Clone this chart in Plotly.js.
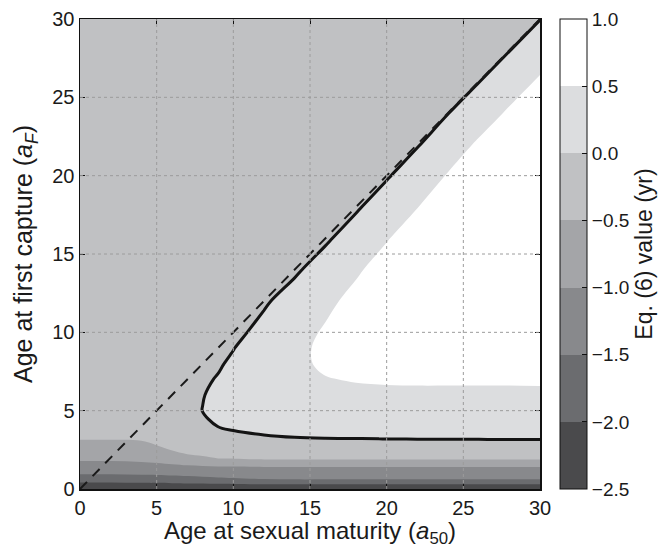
<!DOCTYPE html>
<html>
<head>
<meta charset="utf-8">
<script src="https://cdn.plot.ly/plotly-3.0.1.min.js"></script>
<style>html,body{margin:0;padding:0;background:#fff;}#chart{width:660px;height:548px;}</style>
</head>
<body>
<div id="chart"></div>
<script>
// Age at sexual maturity (a50) grid
const xVals = [0, 2, 4, 6, 7, 8, 9, 10, 12, 14, 16, 18, 20, 22, 24, 26, 28, 30];
// Age at first capture (aF) grid
const yVals = [0, 0.3, 0.6, 1, 1.4, 1.9, 2.5, 3.2, 4, 5, 6, 7, 8, 9, 10, 12, 14, 16, 18, 20, 22, 24, 26, 28, 30];
// Eq. (6) value (yr), one row per yVals entry, one column per xVals entry
const zVals = [
  [-2.4,-2.4,-2.4,-2.4,-2.4,-2.4,-2.4,-2.4,-2.4,-2.4,-2.4,-2.4,-2.4,-2.4,-2.4,-2.4,-2.4,-2.4],
  [-2.11,-2.11,-2.10,-2.08,-2.07,-2.06,-2.04,-2.03,-2.01,-2.01,-2.01,-2.01,-2.01,-2.01,-2.01,-2.01,-2.01,-2.01],
  [-1.82,-1.82,-1.78,-1.73,-1.70,-1.66,-1.61,-1.58,-1.52,-1.51,-1.51,-1.51,-1.51,-1.51,-1.51,-1.51,-1.51,-1.51],
  [-1.45,-1.45,-1.41,-1.37,-1.34,-1.32,-1.30,-1.28,-1.26,-1.25,-1.25,-1.25,-1.25,-1.25,-1.25,-1.25,-1.25,-1.25],
  [-1.22,-1.22,-1.18,-1.11,-1.08,-1.06,-1.04,-1.03,-1.01,-1.01,-1.01,-1.01,-1.01,-1.01,-1.01,-1.01,-1.01,-1.01],
  [-0.93,-0.93,-0.90,-0.81,-0.72,-0.65,-0.53,-0.52,-0.49,-0.49,-0.49,-0.49,-0.49,-0.49,-0.49,-0.49,-0.49,-0.49],
  [-0.72,-0.72,-0.68,-0.48,-0.30,-0.20,-0.20,-0.20,-0.31,-0.28,-0.27,-0.27,-0.27,-0.27,-0.27,-0.27,-0.27,-0.27],
  [-0.48,-0.48,-0.46,-0.30,-0.25,-0.30,-0.19,-0.08,-0.037,-0.014,-0.005,-0.003,0.001,0.008,0.008,0.012,0.016,0.016],
  [-0.32,-0.32,-0.30,-0.30,-0.10,-0.16,0.007,0.04,0.081,0.10,0.10,0.11,0.12,0.12,0.12,0.12,0.12,0.124],
  [-0.3,-0.3,-0.3,-0.3,-0.10,0.006,0.088,0.17,0.228,0.25,0.22,0.25,0.26,0.27,0.27,0.27,0.27,0.27],
  [-0.3,-0.3,-0.3,-0.3,-0.10,-0.0125,0.071,0.154,0.32,0.40,0.35,0.39,0.41,0.41,0.41,0.41,0.41,0.42],
  [-0.3,-0.3,-0.3,-0.3,-0.11,-0.044,0.019,0.082,0.21,0.335,0.48,0.53,0.55,0.56,0.56,0.56,0.56,0.56],
  [-0.3,-0.3,-0.3,-0.3,-0.21,-0.12,-0.034,0.052,0.22,0.40,0.57,0.67,0.70,0.70,0.71,0.71,0.71,0.71],
  [-0.3,-0.3,-0.3,-0.3,-0.3,-0.21,-0.11,-0.01,0.19,0.39,0.59,0.79,0.8,0.8,0.8,0.8,0.8,0.8],
  [-0.3,-0.3,-0.3,-0.3,-0.3,-0.3,-0.20,-0.097,0.118,0.333,0.548,0.76,0.8,0.8,0.8,0.8,0.8,0.8],
  [-0.3,-0.3,-0.3,-0.3,-0.3,-0.3,-0.3,-0.26,-0.05,0.17,0.40,0.625,0.8,0.8,0.8,0.8,0.8,0.8],
  [-0.3,-0.3,-0.3,-0.3,-0.3,-0.3,-0.3,-0.3,-0.28,-0.06,0.19,0.44,0.69,0.8,0.8,0.8,0.8,0.8],
  [-0.3,-0.3,-0.3,-0.3,-0.3,-0.3,-0.3,-0.3,-0.3,-0.28,-0.06,0.20,0.47,0.74,0.8,0.8,0.8,0.8],
  [-0.3,-0.3,-0.3,-0.3,-0.3,-0.3,-0.3,-0.3,-0.3,-0.3,-0.28,-0.05,0.22,0.49,0.78,0.8,0.8,0.8],
  [-0.3,-0.3,-0.3,-0.3,-0.3,-0.3,-0.3,-0.3,-0.3,-0.3,-0.3,-0.29,-0.04,0.24,0.53,0.8,0.8,0.8],
  [-0.3,-0.3,-0.3,-0.3,-0.3,-0.3,-0.3,-0.3,-0.3,-0.3,-0.3,-0.3,-0.29,-0.03,0.26,0.56,0.8,0.8],
  [-0.3,-0.3,-0.3,-0.3,-0.3,-0.3,-0.3,-0.3,-0.3,-0.3,-0.3,-0.3,-0.3,-0.29,-0.01,0.27,0.56,0.8],
  [-0.3,-0.3,-0.3,-0.3,-0.3,-0.3,-0.3,-0.3,-0.3,-0.3,-0.3,-0.3,-0.3,-0.3,-0.28,-0.01,0.28,0.56],
  [-0.3,-0.3,-0.3,-0.3,-0.3,-0.3,-0.3,-0.3,-0.3,-0.3,-0.3,-0.3,-0.3,-0.3,-0.3,-0.28,-0.01,0.28],
  [-0.3,-0.3,-0.3,-0.3,-0.3,-0.3,-0.3,-0.3,-0.3,-0.3,-0.3,-0.3,-0.3,-0.3,-0.3,-0.3,-0.28,-0.01]
];
// 1:1 reference line (a_F = a50)
const diagX = [0, 30];
const diagY = [0, 30];
// contour levels, colorbar range and ticks
const levelStart = -2.5, levelEnd = 1.0, levelStep = 0.5;
const cbTicks = [-2.5, -2.0, -1.5, -1.0, -0.5, 0.0, 0.5, 1.0];
const axisTicks = [0, 5, 10, 15, 20, 25, 30];
const gridVals = [5, 10, 15, 20, 25];
// one colour per band, from (-2.5,-2.0) up to (0.5,1.0)
const bandColors = ['#4a4a4c','#6b6c6f','#88898c','#a4a5a8','#c0c1c3','#dcdddf','#ffffff'];

const n = bandColors.length;
// fill colorscale: band midpoints sit at (k+1)/(n+1) in Plotly's fill mapping
const fillScale = [[0, bandColors[0]]];
bandColors.forEach((c, k) => fillScale.push([(k + 1) / (n + 1), c]));
fillScale.push([1, bandColors[n - 1]]);
// stepped colorscale for the colorbar (zmin..zmax)
const stepScale = [];
bandColors.forEach((c, k) => { stepScale.push([k / n, c]); stepScale.push([(k + 1) / n, c]); });

const FONT = 'Liberation Sans, Arial, Helvetica, sans-serif';
const TXT = '#1a1a1a';

const fillTrace = {
  type: 'contour', x: xVals, y: yVals, z: zVals,
  autocontour: false, showscale: false,
  contours: {start: levelStart, end: levelEnd, size: levelStep, coloring: 'fill', showlines: false},
  line: {width: 0, smoothing: 1},
  colorscale: fillScale,
  hoverinfo: 'skip'
};

// same field, only used to carry the colour bar (drawn transparent)
const scaleTrace = {
  type: 'contour', x: xVals, y: yVals, z: zVals,
  autocontour: false, opacity: 0,
  zmin: levelStart, zmax: levelEnd,
  contours: {start: levelStart, end: levelEnd, size: levelStep, coloring: 'heatmap', showlines: false},
  line: {width: 0},
  colorscale: stepScale,
  hoverinfo: 'skip',
  colorbar: {
    x: 1.0435, xanchor: 'left', y: 0.5, yanchor: 'middle', len: 1, lenmode: 'fraction',
    thickness: 27, thicknessmode: 'pixels', xpad: 0, ypad: 0,
    outlinewidth: 1, outlinecolor: '#111',
    ticks: 'inside', ticklen: 5, tickcolor: '#111',
    tickvals: cbTicks, tickformat: '.1f',
    tickfont: {family: FONT, size: 19, color: TXT},
    title: {text: 'Eq. (6) value (yr)', side: 'right', font: {family: FONT, size: 23, color: TXT}}
  }
};

const zeroTrace = {
  type: 'contour', x: xVals, y: yVals, z: zVals,
  autocontour: false, showscale: false,
  contours: {start: 0, end: 0, size: 1, coloring: 'none', showlines: true},
  line: {color: '#141414', width: 3, smoothing: 1},
  hoverinfo: 'skip'
};

const diagTrace = {
  type: 'scatter', mode: 'lines', x: diagX, y: diagY,
  line: {color: '#1a1a1a', width: 2, dash: '10px,8px'},
  hoverinfo: 'skip', showlegend: false
};

const shapes = [];
gridVals.forEach(v => {
  shapes.push({type: 'line', xref: 'x', yref: 'paper', x0: v, x1: v, y0: 0, y1: 1, layer: 'above',
    line: {color: '#9c9c9c', width: 1, dash: 'dot'}});
  shapes.push({type: 'line', xref: 'paper', yref: 'y', x0: 0, x1: 1, y0: v, y1: v, layer: 'above',
    line: {color: '#9c9c9c', width: 1, dash: 'dot'}});
});

const axisCommon = {
  range: [0, 30], tickvals: axisTicks, ticks: 'inside', ticklen: 5, tickwidth: 1, tickcolor: '#111',
  showline: true, linecolor: '#111', linewidth: 1.5, mirror: 'ticks', showgrid: false, zeroline: false,
  tickfont: {family: FONT, size: 20, color: TXT}
};

const layout = {
  width: 660, height: 548,
  margin: {l: 80, r: 120, t: 19, b: 58.5, autoexpand: false},
  paper_bgcolor: '#fff', plot_bgcolor: '#fff',
  font: {family: FONT, size: 20, color: TXT},
  showlegend: false,
  xaxis: Object.assign({}, axisCommon, {
    title: {text: 'Age at sexual maturity (<i>a</i><sub>50</sub>)', font: {family: FONT, size: 24, color: TXT}, standoff: 0}
  }),
  yaxis: Object.assign({}, axisCommon, {
    title: {text: 'Age at first capture (<i>a</i><sub><i>F</i></sub>)', font: {family: FONT, size: 25, color: TXT}, standoff: 12}
  }),
  shapes: shapes
};

Plotly.newPlot('chart', [fillTrace, scaleTrace, zeroTrace, diagTrace], layout, {displayModeBar: false, staticPlot: true});
</script>
</body>
</html>
